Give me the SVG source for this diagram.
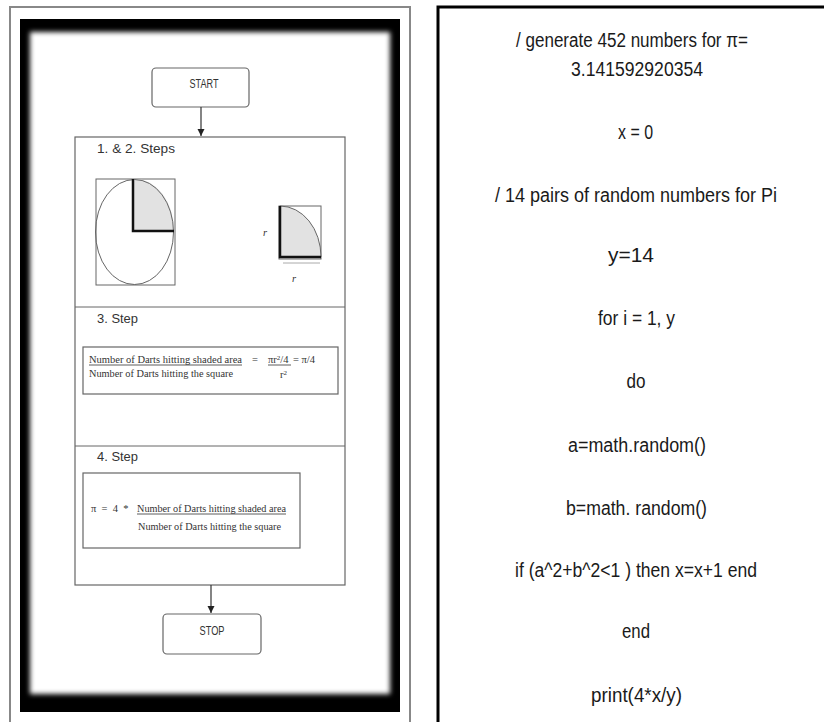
<svg xmlns="http://www.w3.org/2000/svg" width="824" height="722" viewBox="0 0 824 722">
<style>
.bg{fill:#fff}
.box{fill:#fff;stroke:#666;stroke-width:1.2}
.thin{fill:none;stroke:#666;stroke-width:1}
.thick{fill:none;stroke:#111;stroke-width:2.5}
.shade{fill:#e2e2e2}
.lab{font-family:"Liberation Sans",Arial,sans-serif;font-size:12.5px;fill:#333}
.serif{font-family:"Liberation Serif","Times New Roman",serif;font-size:10.5px;fill:#333}
.code{font-family:"Liberation Sans",Arial,sans-serif;font-size:19.5px;fill:#1a1a1a;text-anchor:middle}
.conn{stroke:#333;stroke-width:1.2;fill:none}
</style>
<defs>
<marker id="arr" viewBox="0 0 10 10" refX="10" refY="5" markerWidth="6" markerHeight="6" orient="auto">
<path d="M0,0 L10,5 L0,10 z" fill="#222"/>
</marker>
<filter id="soft" x="-5%" y="-5%" width="110%" height="110%">
<feGaussianBlur stdDeviation="2.5"/>
</filter>
</defs>
<rect x="0" y="0" width="824" height="722" class="bg"/>

<g id="left-frame">
<rect x="10" y="7" width="400" height="730" fill="#fff" stroke="#888" stroke-width="2"/>
<rect x="20" y="19" width="380" height="693" fill="#000"/>
<rect x="30" y="32" width="360" height="662" fill="#fff" filter="url(#soft)"/>
</g>

<g id="start">
<rect x="152" y="68" width="97" height="39" rx="4" class="box"/>
<text x="204" y="88" class="lab" text-anchor="middle" textLength="29" lengthAdjust="spacingAndGlyphs">START</text>
</g>

<g id="steps">
<rect x="75" y="137" width="270" height="448" class="box"/>
<line x1="75" y1="307" x2="345" y2="307" class="thin"/>
<line x1="75" y1="446" x2="345" y2="446" class="thin"/>
<text x="97" y="153" class="lab" textLength="78" lengthAdjust="spacingAndGlyphs">1.  &amp;   2. Steps</text>
<!-- big square with circle -->
<rect x="96" y="179" width="79" height="106" class="thin"/>
<path d="M133,231 L133,179 A39,52 0 0 1 174,231 Z" class="shade"/>
<ellipse cx="134.5" cy="232" rx="39" ry="52.5" class="thin"/>
<path d="M133,179 L133,231 L174,231" class="thick"/>
<!-- small square with quarter -->
<rect x="279" y="206" width="42" height="53" class="thin"/>
<path d="M280,206 A41,51 0 0 1 321,257 L280,257 Z" class="shade"/>
<path d="M280,206 A41,51 0 0 1 321,257" class="thin"/>
<path d="M280,206 L280,257 L321,257" class="thick"/>
<line x1="283" y1="263" x2="320" y2="263" stroke="#aaa" stroke-width="1"/>
<text x="263" y="236" class="serif" font-style="italic" font-size="6">r</text>
<text x="292" y="282" class="serif" font-style="italic" font-size="6">r</text>

<text x="97" y="323" class="lab" textLength="41" lengthAdjust="spacingAndGlyphs">3.   Step</text>
<rect x="83" y="347" width="255" height="47" class="box"/>
<text x="89" y="363" class="serif" textLength="153" lengthAdjust="spacingAndGlyphs">Number of Darts hitting shaded area</text>
<line x1="89" y1="365" x2="242" y2="365" stroke="#333" stroke-width="0.8"/>
<text x="252" y="363" class="serif">=</text>
<text x="268" y="363" class="serif">πr<tspan dy="-3" font-size="7">2</tspan><tspan dy="3">/4</tspan></text>
<line x1="268" y1="365" x2="291" y2="365" stroke="#333" stroke-width="0.8"/>
<text x="293" y="363" class="serif" xml:space="preserve">= π/4</text>
<text x="89" y="377" class="serif" textLength="144" lengthAdjust="spacingAndGlyphs">Number of Darts hitting the square</text>
<text x="280" y="378" class="serif">r<tspan dy="-3" font-size="7">2</tspan></text>

<text x="97" y="461" class="lab" textLength="41" lengthAdjust="spacingAndGlyphs">4.   Step</text>
<rect x="83" y="473" width="217" height="75" class="box"/>
<text x="91" y="512" class="serif" xml:space="preserve">π  =  4  *</text>
<text x="137" y="512" class="serif" textLength="149" lengthAdjust="spacingAndGlyphs">Number of Darts hitting shaded area</text>
<line x1="137" y1="514" x2="286" y2="514" stroke="#333" stroke-width="0.8"/>
<text x="138" y="530" class="serif" textLength="143" lengthAdjust="spacingAndGlyphs">Number of Darts hitting the square</text>
</g>

<g id="stop">
<rect x="163" y="614" width="98" height="40" rx="4" class="box"/>
<text x="212" y="635" class="lab" text-anchor="middle" textLength="25" lengthAdjust="spacingAndGlyphs">STOP</text>
</g>

<g id="connectors">
<line x1="201" y1="107" x2="201" y2="136" class="conn" marker-end="url(#arr)"/>
<line x1="211" y1="585" x2="211" y2="613" class="conn" marker-end="url(#arr)"/>
</g>

<g id="code">
<rect x="438" y="7" width="400" height="730" fill="#fff" stroke="#000" stroke-width="3"/>
<text x="632" y="47" class="code" textLength="232" lengthAdjust="spacingAndGlyphs">/ generate 452 numbers for π=</text>
<text x="637" y="76" class="code" textLength="132" lengthAdjust="spacingAndGlyphs">3.141592920354</text>
<text x="635.5" y="139" class="code" textLength="35" lengthAdjust="spacingAndGlyphs">x = 0</text>
<text x="636" y="202" class="code" textLength="282" lengthAdjust="spacingAndGlyphs">/  14 pairs of random numbers for Pi</text>
<text x="631" y="262" class="code" textLength="46" lengthAdjust="spacingAndGlyphs">y=14</text>
<text x="636.5" y="325" class="code" textLength="77" lengthAdjust="spacingAndGlyphs">for i = 1, y</text>
<text x="636" y="388" class="code" textLength="19" lengthAdjust="spacingAndGlyphs">do</text>
<text x="637" y="452" class="code" textLength="138" lengthAdjust="spacingAndGlyphs">a=math.random()</text>
<text x="636.5" y="515" class="code" textLength="141" lengthAdjust="spacingAndGlyphs">b=math. random()</text>
<text x="636" y="577" class="code" textLength="242" lengthAdjust="spacingAndGlyphs">if (a^2+b^2&lt;1 ) then x=x+1 end</text>
<text x="636" y="638" class="code" textLength="28" lengthAdjust="spacingAndGlyphs">end</text>
<text x="636.5" y="702" class="code" textLength="91" lengthAdjust="spacingAndGlyphs">print(4*x/y)</text>
</g>
</svg>
